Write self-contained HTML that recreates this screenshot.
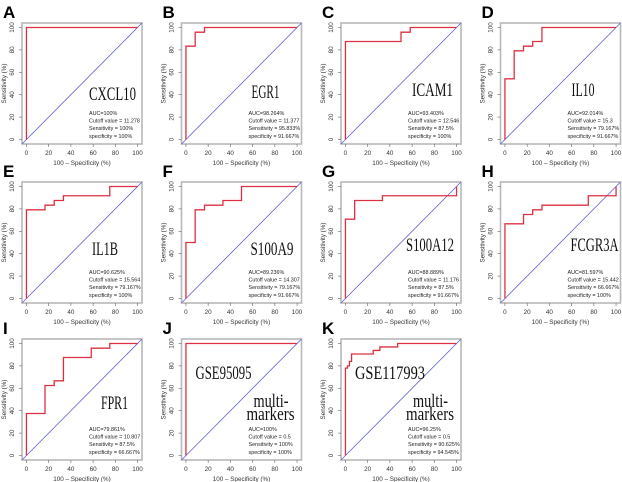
<!DOCTYPE html>
<html><head><meta charset="utf-8"><style>
body{margin:0;background:#fff;}
svg{display:block;}
text{font-family:"Liberation Sans",sans-serif;}
.gene{font-family:"Liberation Serif",serif;font-size:19px;fill:#111;}
.stat{font-size:5.4px;fill:#222;}
.tick{font-size:6.3px;fill:#333;}
.letter{font-size:17px;font-weight:bold;fill:#000;}
</style></head><body>
<svg id="fig" width="622" height="482" viewBox="0 0 622 482"></svg>
<script>
const fprA=[0,0,100], tprA=[0,100,100];
const fprB=[0,0,8.3,8.3,16.7,16.7,100], tprB=[0,83.3,83.3,95.8,95.8,100,100];
const fprC=[0,0,50,50,58.3,58.3,100], tprC=[0,87.5,87.5,95.8,95.8,100,100];
const fprD=[0,0,8.3,8.3,16.7,16.7,25,25,33.3,33.3,100], tprD=[0,54.2,54.2,79.2,79.2,83.3,83.3,87.5,87.5,100,100];
const fprE=[0,0,16.7,16.7,25,25,33.3,33.3,75,75,100], tprE=[0,79.2,79.2,83.3,83.3,87.5,87.5,91.7,91.7,100,100];
const fprF=[0,0,8.3,8.3,16.7,16.7,33.3,33.3,50,50,100], tprF=[0,50,50,79.2,79.2,83.3,83.3,87.5,87.5,100,100];
const fprG=[0,0,8.3,8.3,33.3,33.3,100,100], tprG=[0,70.8,70.8,87.5,87.5,91.7,91.7,100];
const fprH=[0,0,16.7,16.7,25,25,33.3,33.3,75,75,100,100], tprH=[0,66.7,66.7,75,75,79.2,79.2,83.3,83.3,91.7,91.7,100];
const fprI=[0,0,16.7,16.7,25,25,33.3,33.3,58.3,58.3,75,75,100], tprI=[0,37.5,37.5,62.5,62.5,66.7,66.7,87.5,87.5,95.8,95.8,100,100];
const fprJ=[0,0,100], tprJ=[0,100,100];
const fprK=[0,0,1.8,1.8,3.6,3.6,5.5,5.5,25,25,31,31,47,47,100], tprK=[0,78,78,80,80,84,84,90.6,90.6,93.8,93.8,96.9,96.9,100,100];
const tickVals=[0,20,40,60,80,100];
const letters=["A","B","C","D","E","F","G","H","I","J","K"];
const genes=["CXCL10","EGR1","ICAM1","IL10","IL1B","S100A9","S100A12","FCGR3A","FPR1","",""];
const aucs=["AUC=100%","AUC=98.264%","AUC=93.403%","AUC=92.014%","AUC=90.625%","AUC=89.236%","AUC=88.889%","AUC=81.597%","AUC=79.861%","AUC=100%","AUC=96.25%"];
const cutoffs=["11.278","11.377","12.546","15.3","15.564","14.307","11.176","15.442","10.807","0.5","0.5"];
const sens=["100%","95.833%","87.5%","79.167%","79.167%","79.167%","87.5%","66.667%","87.5%","100%","90.625%"];
const specs=["100%","91.667%","100%","91.667%","100%","91.667%","91.667%","100%","66.667%","100%","94.545%"];
const fprs=[fprA,fprB,fprC,fprD,fprE,fprF,fprG,fprH,fprI,fprJ,fprK];
const tprs=[tprA,tprB,tprC,tprD,tprE,tprF,tprG,tprH,tprI,tprJ,tprK];
const geneX=[89,92,93,93,92,91,87,92,101];
const geneY=[100,98,96,96,96,96,92,92,93];
const geneW=[47,28,41,23,26,43,48,48,27];

const NS="http://www.w3.org/2000/svg";
const svg=document.getElementById('fig');
function mk(tag,attrs,parent,txt){const e=document.createElementNS(NS,tag);for(const k in attrs)e.setAttribute(k,attrs[k]);if(txt!==undefined)e.textContent=txt;(parent||svg).appendChild(e);return e;}
const rowY=[0,159,316];
for(let p=0;p<11;p++){
  const col=p%4,row=Math.floor(p/4);
  const ox=col*159.5, oy=rowY[row];
  const g=mk('g',{});
  
  
  const L=ox+22,R=ox+142,T=oy+23,B=oy+144,W=120;
  const xs=v=>L+(v+4)*W/108, ys=v=>B-(v+4)*121/108;
  const lt=mk('text',{x:ox+3,y:oy+18,class:'letter'},g,letters[p]);
  
  
  const box=mk('rect',{x:L,y:T,width:W,height:B-T,fill:'none',stroke:'#b8b8b8','stroke-width':1.6},g);
  
  
  const diag=mk('line',{x1:xs(-4),y1:ys(-4),x2:xs(104),y2:ys(104),stroke:'#5f5fd8','stroke-width':0.8},g);
  
  
  let d='';
  fprs[p].forEach((v,i)=>{d+=(i?'L':'M')+xs(v).toFixed(2)+' '+ys(tprs[p][i]).toFixed(2);});
  const curve=mk('path',{d:d,fill:'none',stroke:'#dc3040','stroke-width':1.3},g);
  
  
  tickVals.forEach(t=>{
    mk('line',{x1:xs(t),y1:B,x2:xs(t),y2:B+3,stroke:'#666','stroke-width':0.6},g);
    const xl=mk('text',{x:xs(t),y:B+11,class:'tick','text-anchor':'middle'},g,t);
    
    
    mk('line',{x1:L,y1:ys(t),x2:L-3,y2:ys(t),stroke:'#666','stroke-width':0.6},g);
    const yl=mk('text',{x:0,y:0,class:'tick','text-anchor':'middle',transform:`translate(${ox+14},${ys(t)}) rotate(-90)`},g,t);
    
    
  });
  const xt=mk('text',{x:(L+R)/2,y:B+21,class:'tick','text-anchor':'middle'},g,'100 – Specificity (%)');
  
  
  const yt=mk('text',{x:0,y:0,class:'tick','text-anchor':'middle',transform:`translate(${ox+6},${(T+B)/2}) rotate(-90)`},g,'Sensitivity (%)');
  
  
  if(p<9){
    const gl=mk('text',{x:ox+geneX[p],y:oy+geneY[p],class:'gene',textLength:geneW[p],lengthAdjust:'spacingAndGlyphs'},g,genes[p]);
    
    
  } else {
    const ds=mk('text',{x:ox+36,y:oy+63,class:'gene',textLength:p===9?56:70,lengthAdjust:'spacingAndGlyphs'},g,p===9?'GSE95095':'GSE117993');
    
    
    const m1=mk('text',{x:ox+94,y:oy+91,class:'gene',textLength:35,lengthAdjust:'spacingAndGlyphs'},g,'multi-');
    
    
    const m2=mk('text',{x:ox+87,y:oy+104,class:'gene',textLength:48,lengthAdjust:'spacingAndGlyphs'},g,'markers');
    
    
  }
  const lines=[aucs[p],'Cutoff value = '+cutoffs[p],'Sensitivity = '+sens[p],'specificity = '+specs[p]];
  lines.forEach((s,i)=>{
    const st=mk('text',{x:ox+89,y:oy+115+i*7.6,class:'stat'},g,s);
    
    
  });
}
</script>
</body></html>
